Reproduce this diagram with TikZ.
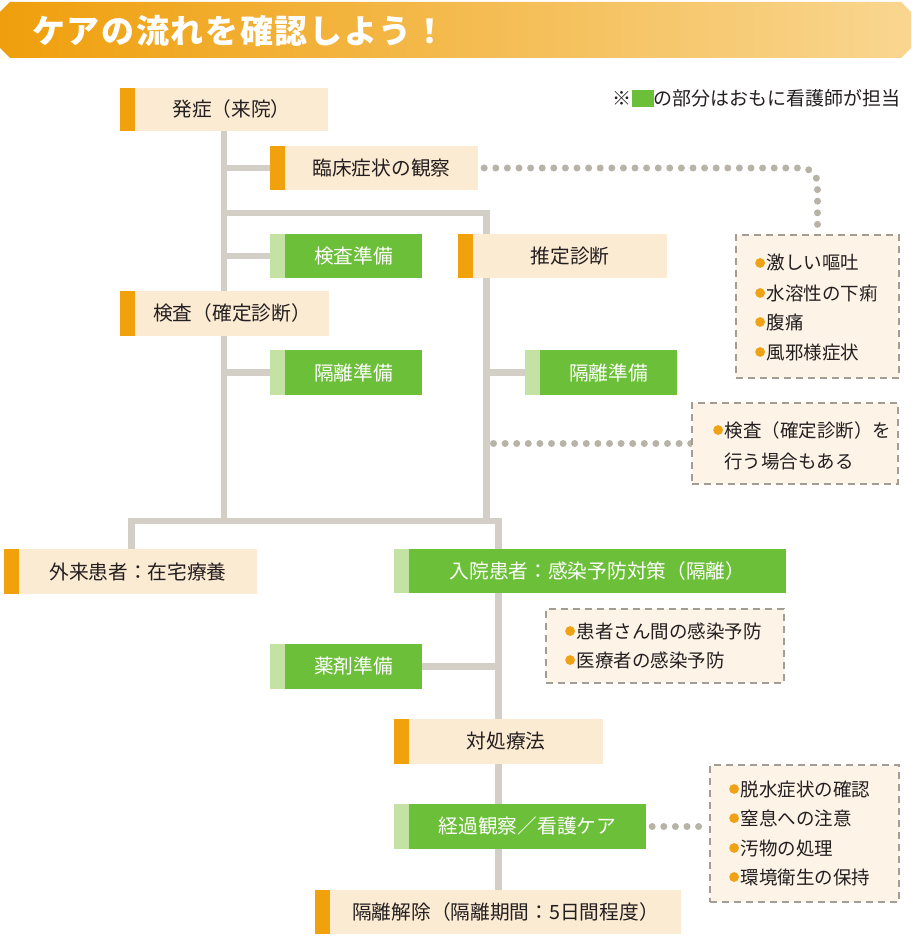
\documentclass[tikz,border=0pt]{standalone}
\usepackage{fontspec}
\setmainfont{Noto Sans CJK JP}
\usetikzlibrary{backgrounds}
\definecolor{linegray}{HTML}{D3CFC6}
\definecolor{dotgray}{HTML}{B8B3A7}
\definecolor{creamfill}{HTML}{FCEBD3}
\definecolor{creambar}{HTML}{F0A10C}
\definecolor{greenfill}{HTML}{6CBF38}
\definecolor{greenbar}{HTML}{C3E2A3}
\definecolor{dashgray}{HTML}{A39E94}
\definecolor{dashfill}{HTML}{FDF4E7}
\definecolor{bulc}{HTML}{F0A216}
\definecolor{textdark}{HTML}{231E1F}
\definecolor{titleL}{HTML}{EF9F0C}
\definecolor{titleR}{HTML}{F9D690}
\newcommand\bul{\tikz[baseline=-0.38em]\fill[bulc](0,0) circle (4.9pt);\hspace{1.5pt}}
\tikzset{
  conn/.style={draw=linegray, line width=6.5pt},
  dots/.style={draw=dotgray, line width=7pt, line cap=round, dash pattern=on 0pt off 11.6pt},
  dbox/.style={draw=dashgray, fill=dashfill, line width=1.8pt, dash pattern=on 7pt off 5pt, inner sep=0pt},
  creambox/.style={fill=creamfill, inner sep=0pt, text=textdark, font=\fontsize{19.7}{22}\selectfont},
  greenbox/.style={fill=greenfill, inner sep=0pt, text=white, font=\fontsize{19.7}{22}\selectfont},
  lst/.style={anchor=west, inner sep=0pt, text=textdark, font=\fontsize{18.5}{22}\selectfont},
}
\newcommand\flowbox[7]{%
  \fill[#1bar] (#3,#4) rectangle ({#3+15},#6);
  \node[#1box, minimum width={(#5-#3-15)*1pt}, minimum height={(#6-#4)*1pt}] (#2) at ({(#3+15+#5)/2},{(#4+#6)/2}) {#7};
}
\begin{document}
\begin{tikzpicture}[x=1pt,y=-1pt]
\useasboundingbox (0,0) rectangle (911,944);
% title banner
\shade[left color=titleL, right color=titleR] (10,2) -- (901,2) -- (911,12) -- (911,48) -- (901,58) -- (10,58) -- (0,48) -- (0,12) -- cycle;
\node[anchor=west, inner sep=0pt, text=white, font=\fontsize{33}{36}\selectfont\bfseries\addfontfeature{LetterSpace=5}] (title) at (32,31) {ケアの流れを確認しよう！};
\node[anchor=east, inner sep=0pt, text=textdark, font=\fontsize{19}{22}\selectfont] (legend) at (901,98) {※\textcolor{greenfill}{\rule[-1.5pt]{22pt}{17pt}}の部分はおもに看護師が担当};
% flow boxes
\flowbox{cream}{fa}{120}{88}{328}{131}{発症（来院）}
\flowbox{cream}{rs}{270}{146}{478}{190}{臨床症状の観察}
\flowbox{green}{kj}{270}{234}{422}{278}{検査準備}
\flowbox{cream}{sd}{458}{234}{667}{278}{推定診断}
\flowbox{cream}{ks}{120}{291}{329}{336}{検査（確定診断）}
\flowbox{green}{kra}{270}{350}{422}{395}{隔離準備}
\flowbox{green}{krb}{525}{350}{677}{395}{隔離準備}
\flowbox{cream}{gk}{4}{549}{257}{594}{外来患者：在宅療養}
\flowbox{green}{nk}{394}{549}{786}{593}{入院患者：感染予防対策（隔離）}
\flowbox{green}{yz}{270}{644}{422}{689}{薬剤準備}
\flowbox{cream}{tr}{394}{719}{603}{764}{対処療法}
\flowbox{green}{kk}{394}{804}{646}{849}{経過観察／看護ケア}
\flowbox{cream}{kd}{315}{890}{681}{934}{隔離解除（隔離期間：5日間程度）}
% dashed note boxes
\node[dbox, minimum width=163pt, minimum height=143pt] (A) at (817.5,306.5) {};
\node[dbox, minimum width=206pt, minimum height=81pt] (B) at (795,443.5) {};
\node[dbox, minimum width=238pt, minimum height=74pt] (C) at (665,646) {};
\node[dbox, minimum width=189pt, minimum height=137pt] (D) at (804.5,833.5) {};
\node[lst] (a1) at (755,263) {\bul 激しい嘔吐};
\node[lst] (a2) at (755,293) {\bul 水溶性の下痢};
\node[lst] (a3) at (755,322) {\bul 腹痛};
\node[lst] (a4) at (755,352) {\bul 風邪様症状};
\node[lst] (b1) at (713,430) {\bul 検査（確定診断）を};
\node[lst] (b2) at (724,461) {行う場合もある};
\node[lst] (c1) at (565,631) {\bul 患者さん間の感染予防};
\node[lst] (c2) at (565,660) {\bul 医療者の感染予防};
\node[lst] (d1) at (729,789) {\bul 脱水症状の確認};
\node[lst] (d2) at (729,818) {\bul 窒息への注意};
\node[lst] (d3) at (729,848) {\bul 汚物の処理};
\node[lst] (d4) at (729,877) {\bul 環境衛生の保持};
% junction coordinates
\coordinate (mb) at (224,521);
\coordinate (rt) at (486.5,213);
\coordinate (rb) at (486.5,521);
\coordinate (bl) at (131.5,521);
\coordinate (br) at (498.5,521);
\begin{pgfonlayer}{background}
\draw[conn] (fa.south -| mb) -- (mb);
\draw[conn] (rs.west -| mb) -- (rs.west);
\draw[conn] (rt -| mb) -- (rt) -- (rb);
\draw[conn] (kj.west -| mb) -- (kj.west);
\draw[conn] (kra.west -| mb) -- (kra.west);
\draw[conn] (krb.west -| rb) -- (krb.west);
\draw[conn] (gk.north -| bl) -- (bl) -- (br) -- (kd.north -| br);
\draw[conn] (yz.east) -- (yz.east -| br);
\draw[dots, rounded corners=16pt] ([xshift=6pt]rs.east) -| (A.north);
\draw[dots] ([xshift=7pt]rb |- B.west) -- (B.west);
\draw[dots] ([xshift=6pt]kk.east) -- (kk.east -| D.west);
\end{pgfonlayer}
\end{tikzpicture}
\end{document}
